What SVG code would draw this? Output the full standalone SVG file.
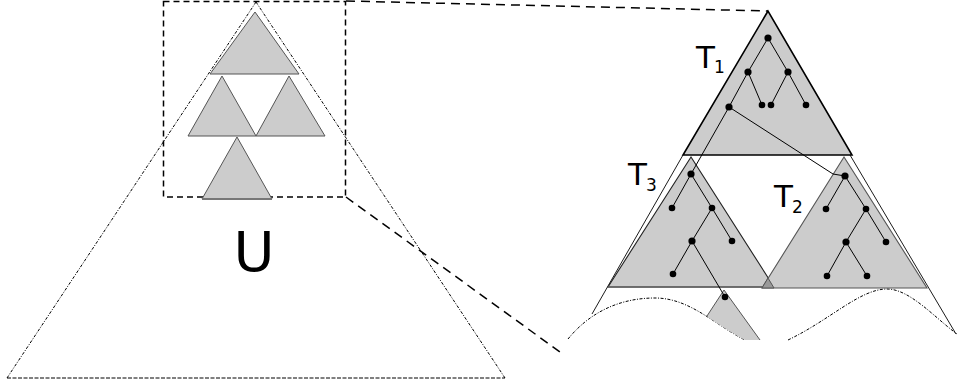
<svg xmlns="http://www.w3.org/2000/svg" width="958" height="385" viewBox="0 0 958 385">
<style>
.gray{fill:#cccccc;stroke:#555;stroke-width:1}
.dotline{fill:none;stroke:#000;stroke-width:1;stroke-dasharray:3 1.5 1 1.5}
.dash{fill:none;stroke:#000;stroke-width:1.5;stroke-dasharray:9 6}
.edge{fill:none;stroke:#000;stroke-width:1}
.thin{fill:none;stroke:#000;stroke-width:0.9}
.dot{fill:#000}
.lbl{font-family:"DejaVu Sans",sans-serif;fill:#000}
</style>
<rect width="958" height="385" fill="#fff"/>
<g id="U">
<path class="dotline" d="M256,2 L7,378"/>
<path class="dotline" d="M256,2 L505,378"/>
<path fill="none" stroke="#000" stroke-width="1" stroke-dasharray="4 1.5" d="M7,378 L505,378"/>
<text class="lbl" x="254" y="271" font-size="56" text-anchor="middle">U</text>
</g>
<g id="zoom-box">
<rect x="163.5" y="1.5" width="182" height="195.5" fill="none" stroke="#000" stroke-width="1.5" stroke-dasharray="6 4"/>
</g>
<g id="small-trees">
<polygon class="gray" points="255,12 210,74 299,74"/>
<polygon class="gray" points="222,76 188,136 256,136"/>
<polygon class="gray" points="289,76 256,136 325,136"/>
<polygon class="gray" points="237,137 202,199 272,199"/>
<line x1="202" y1="199" x2="272" y2="199" stroke="#777" stroke-width="2"/>
</g>
<g id="connectors">
<path class="dash" d="M346,1 L768,11"/>
<path class="dash" d="M346,197 L560,352"/>
</g>
<g id="outer">
<path class="thin" d="M683,155 L592,314"/>
<path class="thin" d="M850,155 L956,334"/>
<path fill="none" stroke="#000" stroke-width="1" stroke-dasharray="3 1.5 1 1.5" d="M568,339 C590,312 620,298 655,298 C690,298 715,325 745,340"/>
<path fill="none" stroke="#000" stroke-width="1" stroke-dasharray="3 1.5 1 1.5" d="M788,340 C830,320 860,289 887,289 C910,289 935,318 957,334"/>
</g>
<g id="T4">
<path d="M724,290 L707,316 C722,327 735,335 745,340 L760,340 Z" fill="#cccccc"/>
<path d="M707,316 L724,290 L760,340" fill="none" stroke="#555" stroke-width="1"/>
</g>
<g id="T1">
<polygon points="768,11 683,155 852,155" fill="#cccccc" stroke="#000" stroke-width="1.6"/>
<text class="lbl" x="696" y="68" font-size="31">T</text>
<text class="lbl" x="714" y="73" font-size="17">1</text>
</g>
<g id="T3">
<polygon points="691,157 608,287 774,287" fill="#cccccc" stroke="#222" stroke-width="1.1"/>
<line x1="608" y1="287" x2="762" y2="287" stroke="#666" stroke-width="1.5"/>
<text class="lbl" x="628" y="185" font-size="31">T</text>
<text class="lbl" x="646" y="191" font-size="17">3</text>
</g>
<g id="T2">
<polygon points="844,157 762,288 927,288" fill="#cccccc" stroke="#555" stroke-width="1.1"/>
<polygon points="768,278 762,288 774,288" fill="#999" stroke="#555" stroke-width="1"/>
<text class="lbl" x="774" y="207" font-size="31">T</text>
<text class="lbl" x="792" y="213" font-size="17">2</text>
</g>
<g id="tree-edges">
<path class="edge" d="M768,38 L748,72 M768,38 L788,72 M748,72 L729,107 M748,72 L762,105 M788,72 L771,105 M788,72 L806,105"/>
<path class="edge" d="M729,107 L691,174"/>
<path class="edge" d="M729,107 L833,174 L845,176"/>
<path class="edge" d="M691,174 L672,208 M691,174 L712,208 M712,208 L732,241 M712,208 L692,241 M692,241 L673,274 M692,241 L725,297"/>
<path class="edge" d="M845,176 L826,209 M845,176 L866,209 M866,209 L886,242 M866,209 L846,242 M846,242 L827,276 M846,242 L867,276"/>
</g>
<g id="tree-nodes">
<circle class="dot" cx="768" cy="38" r="3.6"/>
<circle class="dot" cx="748" cy="72" r="3.6"/>
<circle class="dot" cx="788" cy="72" r="3.6"/>
<circle class="dot" cx="729" cy="107" r="3.6"/>
<circle class="dot" cx="762" cy="105" r="3.3"/>
<circle class="dot" cx="771" cy="105" r="3.3"/>
<circle class="dot" cx="806" cy="105" r="3.3"/>
<circle class="dot" cx="691" cy="174" r="3.6"/>
<circle class="dot" cx="672" cy="208" r="3.3"/>
<circle class="dot" cx="712" cy="208" r="3.3"/>
<circle class="dot" cx="732" cy="241" r="3.3"/>
<circle class="dot" cx="692" cy="241" r="3.6"/>
<circle class="dot" cx="673" cy="274" r="3.3"/>
<circle class="dot" cx="725" cy="297" r="3.3"/>
<circle class="dot" cx="845" cy="176" r="3.6"/>
<circle class="dot" cx="826" cy="209" r="3.3"/>
<circle class="dot" cx="866" cy="209" r="3.3"/>
<circle class="dot" cx="886" cy="242" r="3.3"/>
<circle class="dot" cx="846" cy="242" r="3.6"/>
<circle class="dot" cx="827" cy="276" r="3.3"/>
<circle class="dot" cx="867" cy="276" r="3.3"/>
</g>
</svg>
